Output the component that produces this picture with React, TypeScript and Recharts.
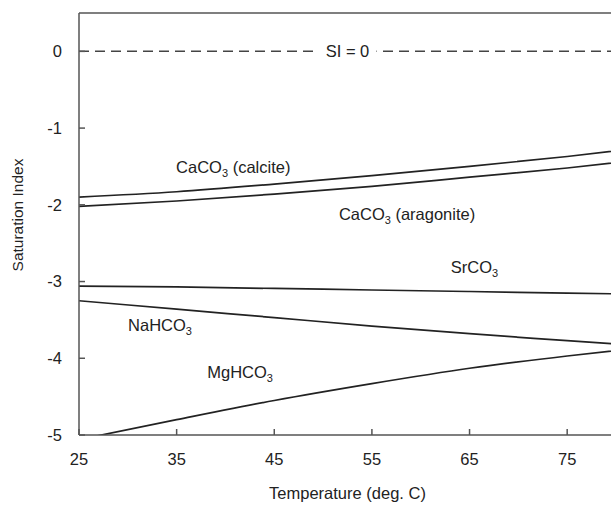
import {
  LineChart, Line, XAxis, YAxis, ReferenceLine, ReferenceDot,
} from 'recharts'

const temps = [25, 35, 45, 55, 65, 75, 85]
const calcite = [-1.9, -1.83, -1.73, -1.62, -1.5, -1.37, -1.22]
const aragonite = [-2.02, -1.95, -1.86, -1.76, -1.64, -1.52, -1.38]
const srco3 = [-3.06, -3.07, -3.09, -3.11, -3.13, -3.15, -3.17]
const nahco3 = [-3.25, -3.36, -3.47, -3.58, -3.68, -3.77, -3.86]
const mghco3 = [-5.06, -4.8, -4.55, -4.33, -4.13, -3.97, -3.83]

const xTicks = [25, 35, 45, 55, 65, 75]
const yTicks = [-5, -4, -3, -2, -1, 0]

// annotation text: [base, subscript, rest]
const notes = [
  { x: 40.8, y: -1.51, parts: ['CaCO', '3', ' (calcite)'] },
  { x: 58.6, y: -2.12, parts: ['CaCO', '3', ' (aragonite)'] },
  { x: 65.5, y: -2.81, parts: ['SrCO', '3', ''] },
  { x: 33.3, y: -3.57, parts: ['NaHCO', '3', ''] },
  { x: 41.5, y: -4.18, parts: ['MgHCO', '3', ''] },
]

const data = temps.map((t, i) => ({
  t,
  calcite: calcite[i],
  aragonite: aragonite[i],
  srco3: srco3[i],
  nahco3: nahco3[i],
  mghco3: mghco3[i],
}))

const font = 'Arial, "Liberation Sans", sans-serif'
const fs = 16.5
const ink = '#222'
const axisGray = '#555'

function NoteLabel({ viewBox, parts }: any) {
  const cx = viewBox.x + (viewBox.width || 0) / 2
  const cy = viewBox.y + (viewBox.height || 0) / 2
  return (
    <text x={cx} y={cy + 6} textAnchor="middle" fontSize={fs} fontFamily={font} fill={ink}>
      <tspan>{parts[0]}</tspan>
      <tspan fontSize={11} dy={4}>{parts[1]}</tspan>
      <tspan dy={-4}>{parts[2]}</tspan>
    </text>
  )
}

function SiLabel({ viewBox }: any) {
  const cx = viewBox.x + viewBox.width / 2
  return (
    <g>
      <rect x={cx - 29} y={viewBox.y - 9} width={58} height={18} fill="#fff" />
      <text x={cx} y={viewBox.y + 6} textAnchor="middle" fontSize={fs} fontFamily={font} fill={ink}>
        SI = 0
      </text>
    </g>
  )
}

function YTitle({ viewBox }: any) {
  const x = viewBox.x + 15
  const y = viewBox.y + viewBox.height / 2 - 9
  return (
    <text x={x} y={y} transform={`rotate(-90 ${x} ${y})`} textAnchor="middle"
      fontSize={15.5} fontFamily={font} fill={ink}>
      Saturation Index
    </text>
  )
}

export default function App() {
  const lineProps = {
    type: 'monotone' as const, stroke: ink, strokeWidth: 1.7, dot: false,
    isAnimationActive: false,
  }
  const tick = { fontSize: fs, fill: ink, fontFamily: font }
  return (
    <div style={{ position: 'fixed', left: 8, top: 8, width: 603, height: 497, overflow: 'hidden', background: '#fff' }}>
      <LineChart width={620} height={497} data={data} margin={{ top: 5, right: 12, left: 0, bottom: 0 }}>
        <XAxis
          dataKey="t" type="number" domain={[25, 80]} ticks={xTicks} allowDataOverflow
          height={70} tickSize={-6} tickMargin={24}
          stroke={axisGray} strokeWidth={1.5}
          tick={tick}
          label={{ value: 'Temperature (deg. C)', position: 'insideBottom', offset: 6, ...tick }}
        />
        <YAxis
          type="number" domain={[-5, 0.5]} ticks={yTicks} allowDataOverflow
          width={71} tickSize={-6} tickMargin={23}
          stroke={axisGray} strokeWidth={1.5}
          tick={tick}
          label={<YTitle />}
        />
        <ReferenceLine y={0.5} stroke={axisGray} strokeWidth={1.5} />
        <ReferenceLine y={0} stroke="#444" strokeWidth={1.5} strokeDasharray="10 6" label={<SiLabel />} />
        <Line dataKey="calcite" {...lineProps} />
        <Line dataKey="aragonite" {...lineProps} />
        <Line dataKey="srco3" {...lineProps} />
        <Line dataKey="nahco3" {...lineProps} />
        <Line dataKey="mghco3" {...lineProps} />
        {notes.map((n, i) => (
          <ReferenceDot key={i} x={n.x} y={n.y} r={0} stroke="none" fill="none"
            label={<NoteLabel parts={n.parts} />} />
        ))}
      </LineChart>
    </div>
  )
}
